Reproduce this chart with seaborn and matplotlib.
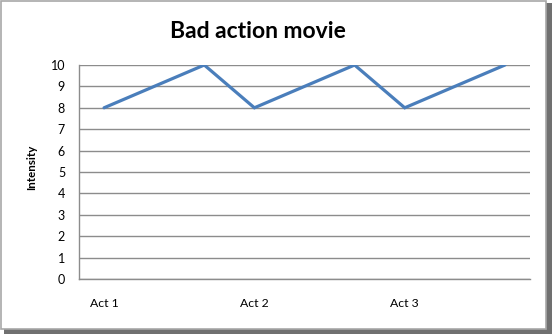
import matplotlib
matplotlib.use("Agg")
import matplotlib.pyplot as plt
import seaborn as sns
import pandas as pd
from matplotlib.patches import Rectangle

# Data
slots = ["Act 1", "", "", "Act 2", "", "", "Act 3", "", ""]
beats = [0, 2, 3, 5, 6, 8]
intensity = [8, 10, 8, 10, 8, 10]
yticks = list(range(0, 11))

sns.set_theme(style="white")
plt.rcParams['font.family'] = ['Lato', 'DejaVu Sans']
plt.rcParams['text.color'] = 'black'
plt.rcParams['xtick.color'] = 'black'
plt.rcParams['ytick.color'] = 'black'

fig = plt.figure(figsize=(5.52, 3.35), dpi=100)
ax = fig.add_axes([79/552, 1-279/335, (530-79)/552, (279-65)/335])

df = pd.DataFrame({"beat": beats, "intensity": intensity})
sns.lineplot(data=df, x="beat", y="intensity", ax=ax, color="#4A7EBB",
             linewidth=2.3, solid_joinstyle="miter", zorder=3)

ax.set_xlim(-0.5, len(slots) - 0.5)
ax.set_ylim(0, 10)
ax.set_yticks(yticks)
ax.set_yticklabels([str(v) for v in yticks], fontsize=9)
ax.set_xticks(range(len(slots)))
ax.set_xticklabels(slots, fontsize=8.8)
ax.tick_params(axis="y", length=0, pad=10)
ax.tick_params(axis="x", length=0, pad=14)
ax.yaxis.grid(True, color="#8C8C8C", linewidth=1.0)
ax.xaxis.grid(False)
for s in ["top", "right"]:
    ax.spines[s].set_visible(False)
for s in ["left", "bottom"]:
    ax.spines[s].set_color("#8C8C8C")
    ax.spines[s].set_linewidth(1.0)
ax.set_xlabel("")
ax.set_ylabel("")

fig.text(258/552, 1-31/335, "Bad action movie", ha="center", va="center",
         fontsize=16.5, fontweight="bold", color="black")
fig.text(32/552, 1-167/335, "Intensity", ha="center", va="center",
         rotation=90, fontsize=8.3, fontweight="bold", color="black")

# chart frame with shadow
fig.patches.append(Rectangle((4/552, 1-334/335), 548/552, 331/335,
                             transform=fig.transFigure, facecolor="#707070",
                             edgecolor="none", zorder=-2))
fig.patches.append(Rectangle((1/552, 1-329/335), 545/552, 328/335,
                             transform=fig.transFigure, facecolor="white",
                             edgecolor="#A8A8A8", linewidth=1.2, zorder=-1))

fig.savefig("out.png", dpi=100)
